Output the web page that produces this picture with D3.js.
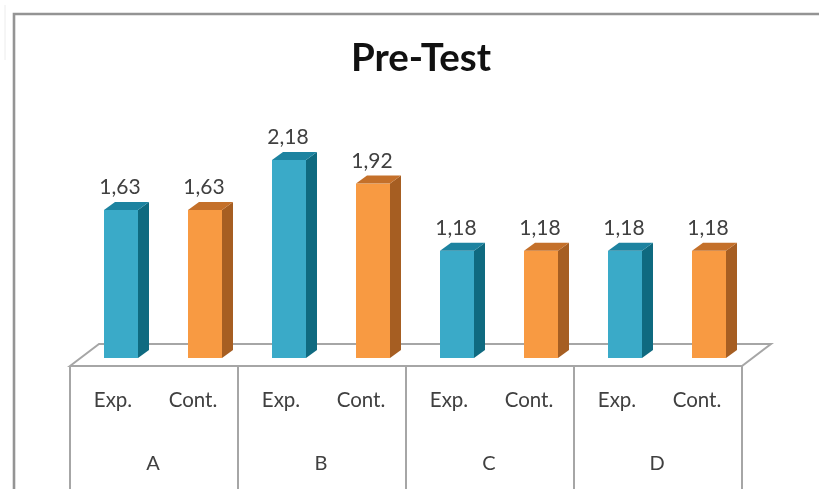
<!DOCTYPE html>
<html><head><meta charset="utf-8">
<script src="https://cdn.jsdelivr.net/npm/d3@7"></script>
<style>html,body{margin:0;padding:0;background:#fff}svg{display:block;filter:blur(0.6px)}text{font-family:"Lato",sans-serif}</style>
</head><body><svg id="c" width="819" height="501"></svg>
<script>
const title = "Pre-Test";
const groups = ["A","B","C","D"];
const series = ["Exp.","Cont."];
const expValues = [1.63,2.18,1.18,1.18];
const contValues = [1.63,1.92,1.18,1.18];
const colors = {"Exp.":{front:"#3aaac8",side:"#0f6a80",top:"#1d83a0"},"Cont.":{front:"#f89a42",side:"#a65e22",top:"#c4702a"}};

const svg = d3.select("#c");
const x0 = d3.scaleBand().domain(groups).range([70,742]);
const x1 = d3.scaleBand().domain(series).range([0,x0.bandwidth()]);
const y = d3.scaleLinear().domain([0,2.18]).range([358,160]);
const fmt = v => d3.format(".2f")(v).replace(".",",");
const barW = 34, dx = 11, dy = 8, barShift = 9;
const grey = "#a6a6a6";

// frame
svg.append("path").attr("d","M14,489V14H819").attr("fill","none").attr("stroke","#949494").attr("stroke-width",2.6);
svg.append("path").attr("d","M5,5V60").attr("fill","none").attr("stroke","#ececec").attr("stroke-width",1);

svg.append("text").attr("x",421).attr("y",71).attr("text-anchor","middle")
  .attr("font-size",38.5).attr("font-weight",700).attr("fill","#111").text(title);

// floor
const fl = x0.range()[0], fr = x0.range()[1], fy = 366, by = 344;
svg.append("path").attr("d",`M${fl},${fy}L${fl+29},${by}H${fr+29}L${fr},${fy}Z`)
  .attr("fill","#fff").attr("stroke",grey).attr("stroke-width",2);

// axis separators
[...groups.map(g=>x0(g)),fr].forEach(px=>{
  svg.append("line").attr("x1",px).attr("x2",px).attr("y1",fy).attr("y2",489).attr("stroke",grey).attr("stroke-width",2);
});

const rows = [];
groups.forEach((g,i)=>{
  rows.push({g,s:series[0],v:expValues[i]});
  rows.push({g,s:series[1],v:contValues[i]});
});
const bar = svg.selectAll("g.bar").data(rows).join("g").attr("class","bar");
const left = d => x0(d.g)+x1(d.s)+x1.bandwidth()/2+barShift-barW/2;
bar.append("rect").attr("x",left).attr("y",d=>y(d.v)).attr("width",barW).attr("height",d=>y(0)-y(d.v)).attr("fill",d=>colors[d.s].front);
bar.append("path").attr("fill",d=>colors[d.s].side).attr("d",d=>{
  const r=left(d)+barW;
  return `M${r},${y(d.v)}l${dx},${-dy}V${y(0)-dy}l${-dx},${dy}Z`;});
bar.append("path").attr("fill",d=>colors[d.s].top).attr("d",d=>{
  const l=left(d);
  return `M${l},${y(d.v)}l${dx},${-dy}h${barW}l${-dx},${dy}Z`;});
bar.append("text").attr("x",d=>left(d)+barW/2-1).attr("y",d=>y(d.v)-16).attr("text-anchor","middle")
  .attr("font-size",21).attr("fill","#404040").text(d=>fmt(d.v));

// category labels
groups.forEach(g=>{
  series.forEach(s=>{
    svg.append("text").attr("x",x0(g)+x1(s)+x1.bandwidth()/2+(s===series[0]?1:-3)).attr("y",407).attr("text-anchor","middle")
      .attr("font-size",20.5).attr("fill","#404040").text(s);
  });
  svg.append("text").attr("x",x0(g)+x0.bandwidth()/2-1).attr("y",470).attr("text-anchor","middle")
    .attr("font-size",20).attr("fill","#404040").text(g);
});
</script></body></html>
